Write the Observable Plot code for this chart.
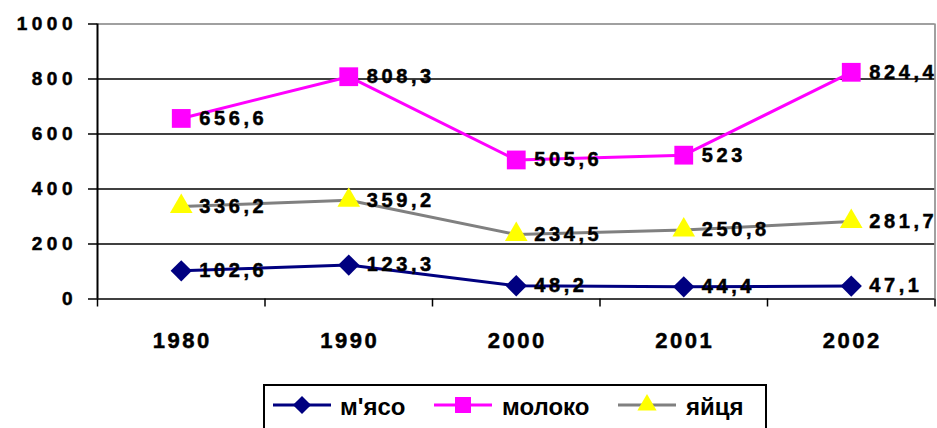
<!DOCTYPE html>
<html><head><meta charset="utf-8">
<script src="https://cdn.jsdelivr.net/npm/d3@7"></script>
<script src="https://cdn.jsdelivr.net/npm/@observablehq/plot@0.6"></script>
<style>
body{margin:0;background:#fff;font-family:"Liberation Sans",Arial,sans-serif;}
#wrap{position:relative;width:937px;height:428px;overflow:hidden;}
#chart svg{display:block;}
#chart svg text{font-weight:bold;stroke:#000;stroke-width:0.5px;}
g[aria-label="y-axis tick label"] text{letter-spacing:4.5px}
g[aria-label="text"] text{letter-spacing:3.6px}
g[aria-label="x-axis tick label"] text{letter-spacing:2.5px}
#legend{position:absolute;left:263px;top:384px;width:504px;height:60px;box-sizing:border-box;border:2px solid #000;padding-left:7.5px;display:flex;align-items:flex-start;}
.item{display:flex;align-items:center;height:38px;margin-right:29px;}
.item svg{margin-right:9.5px;display:block}
.item span{font-weight:bold;font-size:24px;position:relative;top:1.5px;color:#000}
</style></head><body><div id="wrap"><div id="chart"></div><div id="legend"></div></div>
<script>
const categories = ["1980", "1990", "2000", "2001", "2002"];
const seriesNames = ["м'ясо", "молоко", "яйця"];
const meat = [102.6, 123.3, 48.2, 44.4, 47.1];
const milk = [656.6, 808.3, 505.6, 523, 824.4];
const eggs = [336.2, 359.2, 234.5, 250.8, 281.7];
const yTicks = [0, 200, 400, 600, 800, 1000];

const seriesValues = [meat, milk, eggs];
const seriesStyle = [
  {stroke: "#000080", fill: "#000080", symbol: "diamond2", r: 9.6},
  {stroke: "#FF00FF", fill: "#FF00FF", symbol: "square", r: 10.6},
  {stroke: "#808080", fill: "#FFFF00", symbol: "triangle", r: 8.4}
];
const rows = seriesNames.flatMap((s, si) => categories.map((c, i) => ({series: s, si, i, cat: c, value: seriesValues[si][i]})));
const fmt = v => String(v).replace(".", ",");
const xPos = d => d.i + 0.5;

const marks = [
  Plot.ruleY(yTicks.filter(t => t < 1000), {stroke: "#000", strokeWidth: 1.5}),
  Plot.ruleY([1000], {stroke: "#808080", strokeWidth: 1.5}),
  Plot.ruleX([categories.length], {stroke: "#808080", strokeWidth: 1.5}),
  Plot.ruleX([0], {stroke: "#000", strokeWidth: 2}),
  Plot.axisY({ticks: yTicks, label: null, tickSize: 9, tickPadding: 11.5, fontSize: 19, fontWeight: "bold", strokeWidth: 1.5, tickFormat: d => String(d)}),
  Plot.axisX({ticks: d3.range(categories.length + 1), label: null, tickSize: 8, strokeWidth: 1.5, tickFormat: () => ""}),
  Plot.axisX({ticks: categories.map((c, i) => i + 0.5), label: null, tickSize: 0, tickPadding: 33, dx: 1, fontSize: 22, fontWeight: "bold", tickFormat: d => categories[Math.round(d - 0.5)]})
];
seriesNames.forEach((s, si) => {
  const data = rows.filter(d => d.si === si);
  marks.push(Plot.line(data, {x: xPos, y: "value", stroke: seriesStyle[si].stroke, strokeWidth: 3}));
});
seriesNames.forEach((s, si) => {
  const data = rows.filter(d => d.si === si);
  marks.push(Plot.dot(data, {x: xPos, y: "value", symbol: seriesStyle[si].symbol, r: seriesStyle[si].r, fill: seriesStyle[si].fill, stroke: "none"}));
});
marks.push(Plot.text(rows, {x: xPos, y: "value", text: d => fmt(d.value), textAnchor: "start", dx: 18, dy: 0, fontSize: 20, fontWeight: "bold", fill: "#000"}));

const chart = Plot.plot({
  width: 937, height: 370,
  marginLeft: 97, marginRight: 2.5, marginTop: 23.5, marginBottom: 71.5,
  x: {type: "linear", domain: [0, categories.length], axis: null},
  y: {domain: [0, 1000], axis: null},
  style: {fontFamily: "'Liberation Sans', Arial, sans-serif", background: "#fff", color: "#000", overflow: "visible"},
  marks
});
document.getElementById("chart").append(chart);

const symMap = {diamond2: d3.symbolDiamond2, square: d3.symbolSquare, triangle: d3.symbolTriangle};
const legend = d3.select("#legend");
seriesNames.forEach((s, si) => {
  const st = seriesStyle[si];
  const item = legend.append("div").attr("class", "item");
  const sv = item.append("svg").attr("width", 58).attr("height", 24);
  sv.append("line").attr("x1", 0).attr("x2", 58).attr("y1", 12).attr("y2", 12).attr("stroke", st.stroke).attr("stroke-width", 3);
  const rr = st.r * 0.85;
  sv.append("path").attr("transform", "translate(29,12)").attr("d", d3.symbol(symMap[st.symbol], Math.PI * rr * rr)()).attr("fill", st.fill);
  item.append("span").text(s);
});
</script></body></html>
